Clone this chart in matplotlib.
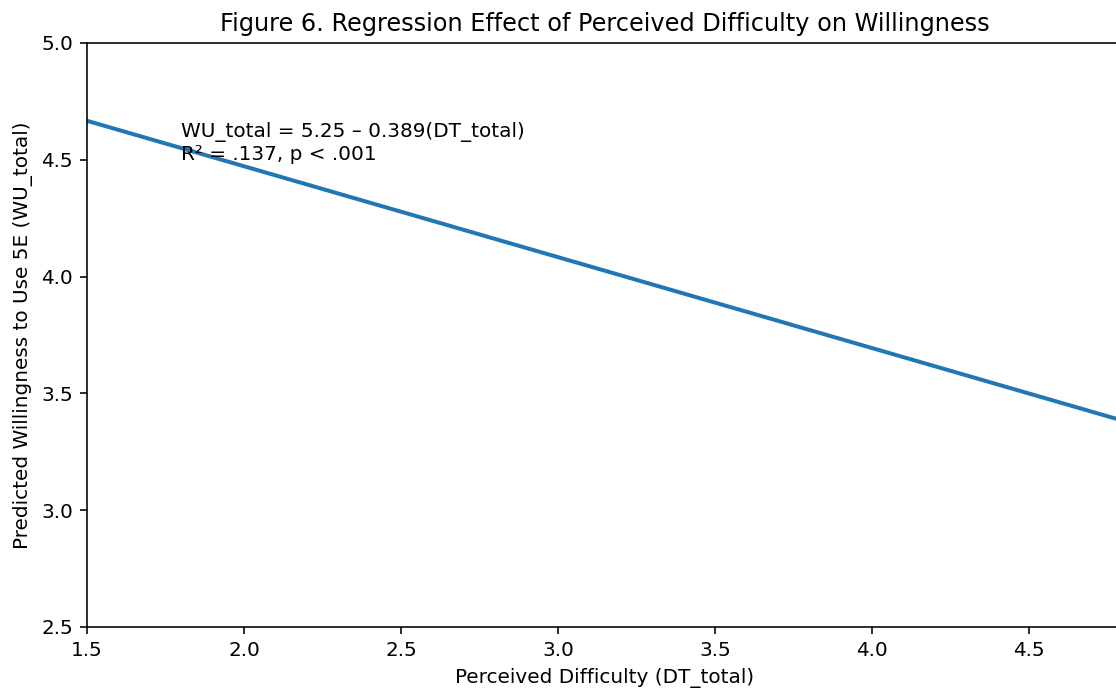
import matplotlib
matplotlib.use("Agg")
import matplotlib.pyplot as plt

# Data
dt_total = [1.5, 4.8]
wu_pred = [4.667, 3.383]
x_ticks = [1.5, 2.0, 2.5, 3.0, 3.5, 4.0, 4.5]
y_ticks = [2.5, 3.0, 3.5, 4.0, 4.5, 5.0]
annotation = "WU_total = 5.25 – 0.389(DT_total)\nR² = .137, p < .001"

DPI = 144
W, H = 1116, 688
fig = plt.figure(figsize=(W / DPI, H / DPI), dpi=DPI)
left, right, top, bottom = 87, 1123, 43, 627
ax = fig.add_axes([left / W, (H - bottom) / H, (right - left) / W, (bottom - top) / H])

ax.plot(dt_total, wu_pred, color="#1f77b4", linewidth=2)
ax.set_xlim(1.5, 4.8)
ax.set_ylim(2.5, 5.0)
ax.set_xticks(x_ticks)
ax.set_yticks(y_ticks)
ax.tick_params(labelsize=10)
ax.set_xlabel("Perceived Difficulty (DT_total)", fontsize=10)
ax.set_ylabel("Predicted Willingness to Use 5E (WU_total)", fontsize=10)
ax.set_title("Figure 6. Regression Effect of Perceived Difficulty on Willingness", fontsize=12)
ax.text(1.8, 4.5, annotation, fontsize=10)

fig.savefig("out.png", dpi=DPI)
